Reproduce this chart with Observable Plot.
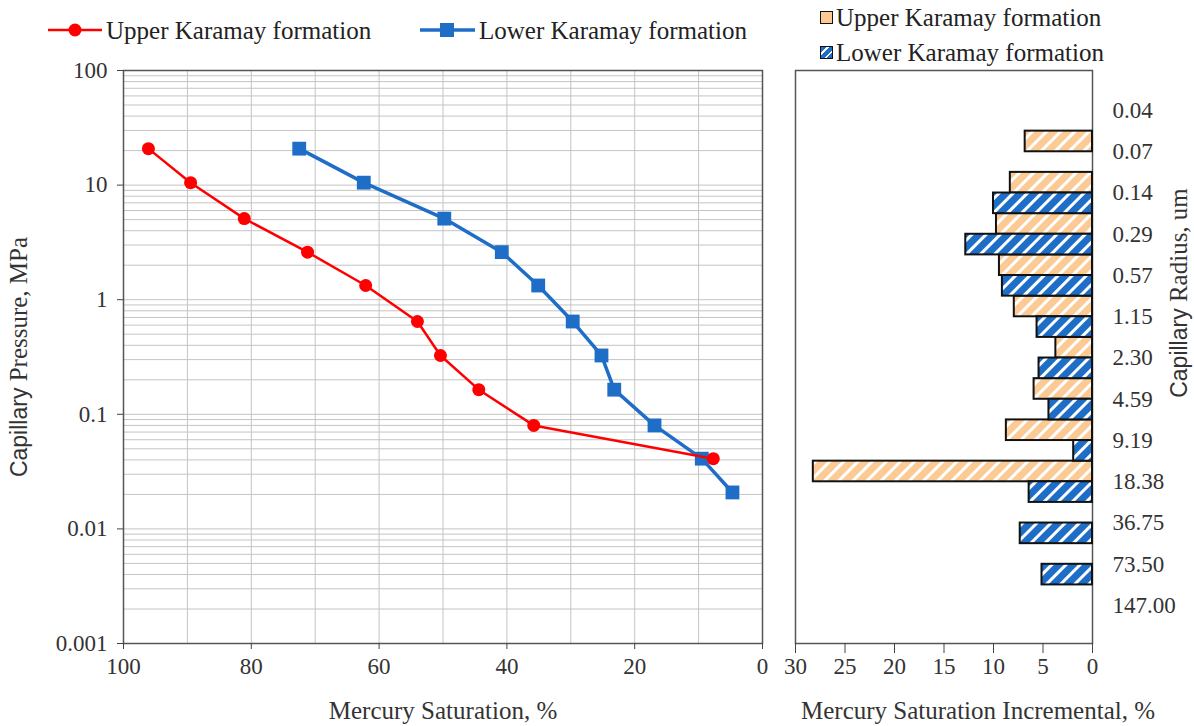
<!DOCTYPE html>
<html><head><meta charset="utf-8">
<script src="https://cdn.jsdelivr.net/npm/d3@7"></script>
<script src="https://cdn.jsdelivr.net/npm/@observablehq/plot@0.6"></script>
<style>
body{margin:0;background:#fff;font-family:"Liberation Serif",serif;}
#wrap{position:relative;width:1194px;height:726px;overflow:hidden;background:#fff;}
#left{position:absolute;left:0;top:0;}
#right{position:absolute;left:780px;top:0;}
.leg{position:absolute;font-size:25px;color:#222;white-space:nowrap;display:flex;align-items:center;line-height:1;}
.sw{display:inline-block;width:13px;height:13px;border:1.5px solid #111;margin-right:3px;box-sizing:border-box;}
</style></head><body>
<div id="wrap">
  <div id="left"></div>
  <div id="right"></div>
  <div class="leg" style="left:47px;top:17px;"><svg width="57" height="26"><line x1="1" y1="13" x2="55" y2="13" stroke="#FF0000" stroke-width="2.5"/><circle cx="28" cy="13" r="6.5" fill="#FF0000"/></svg><span style="margin-left:2px">Upper Karamay formation</span></div>
  <div class="leg" style="left:419px;top:17px;"><svg width="58" height="26"><line x1="1" y1="13" x2="56" y2="13" stroke="#1E6EC8" stroke-width="3.5"/><rect x="21" y="6" width="14" height="14" fill="#1E6EC8"/></svg><span style="margin-left:2px">Lower Karamay formation</span></div>
  <div class="leg" style="left:820px;top:5px;"><span class="sw" style="background:#FCCB95"></span><span>Upper Karamay formation</span></div>
  <div class="leg" style="left:820px;top:40px;"><span class="sw" style="background:repeating-linear-gradient(135deg,#1E6EC8 0 4px,#fff 4px 6px)"></span><span>Lower Karamay formation</span></div>
</div>
<script>
// Capillary pressure curves (mercury injection)
const saturationUpper = [96.1, 89.5, 81.1, 71.2, 62.1, 54.0, 50.4, 44.4, 35.8, 7.7];
const pressureUpper   = [20.8, 10.5, 5.1, 2.6, 1.33, 0.645, 0.326, 0.164, 0.080, 0.041];
const saturationLower = [72.5, 62.4, 49.8, 40.8, 35.1, 29.7, 25.2, 23.2, 16.9, 9.5, 4.7];
const pressureLower   = [20.8, 10.5, 5.1, 2.6, 1.33, 0.645, 0.326, 0.164, 0.080, 0.041, 0.0208];

// Pore-throat radius distribution (incremental saturation)
const radiusLabels = ["0.04","0.07","0.14","0.29","0.57","1.15","2.30","4.59","9.19","18.38","36.75","73.50","147.00"];
const incrementUpper = [null, 6.8, 8.3, 9.7, 9.4, 7.9, 3.7, 5.9, 8.7, 28.2, null, null, null];
const incrementLower = [null, null, 10.0, 12.8, 9.1, 5.6, 5.4, 4.4, 1.9, 6.4, 7.3, 5.1, null];

// Tick values
const satTicks = [100, 80, 60, 40, 20, 0];
const satGrid = [0, 10, 20, 30, 40, 50, 60, 70, 80, 90, 100];
const pressureTicks = [0.001, 0.01, 0.1, 1, 10, 100];
const incTicks = [30, 25, 20, 15, 10, 5, 0];

const pressureGrid = [];
for (const dec of [0.001, 0.01, 0.1, 1, 10]) for (let k = 1; k <= 9; k++) pressureGrid.push(+(k * dec).toPrecision(3));
pressureGrid.push(100);

const upper = saturationUpper.map((s, i) => ({s, p: pressureUpper[i]}));
const lower = saturationLower.map((s, i) => ({s, p: pressureLower[i]}));

const serif = '"Liberation Serif", "Times New Roman", serif';
const blue = "#1E6EC8", red = "#FF0000";

const leftPlot = Plot.plot({
  width: 780, height: 726,
  marginTop: 70, marginBottom: 83, marginLeft: 123, marginRight: 18,
  style: {fontFamily: serif, fontSize: "23px", color: "#333", background: "white", overflow: "visible"},
  x: {domain: [100, 0], label: null},
  y: {type: "log", domain: [0.001, 100], label: null},
  marks: [
    Plot.gridX(satGrid, {stroke: "#c4c4c4", strokeOpacity: 1, strokeWidth: 1}),
    Plot.gridY(pressureGrid, {stroke: "#c4c4c4", strokeOpacity: 1, strokeWidth: 1}),
    Plot.frame({stroke: "#555", strokeWidth: 1.5}),
    Plot.axisX(satTicks, {tickSize: 6, tickPadding: 8, stroke: "#444", label: null}),
    Plot.axisY(pressureTicks, {tickSize: 6, tickPadding: 10, stroke: "#444", label: null,
      tickFormat: d => d >= 1 ? String(d) : d.toString()}),
    Plot.line(lower, {x: "s", y: "p", stroke: blue, strokeWidth: 3.5}),
    Plot.dot(lower, {x: "s", y: "p", symbol: "square", r: 7.8, fill: blue}),
    Plot.line(upper, {x: "s", y: "p", stroke: red, strokeWidth: 2.5}),
    Plot.dot(upper, {x: "s", y: "p", r: 6.5, fill: red}),
    Plot.text(["Mercury Saturation, %"], {text: d => d, frameAnchor: "bottom", textAnchor: "middle", lineAnchor: "middle", dy: 67, fontSize: 25, fill: "#333"}),
    Plot.text(["Capillary Pressure, MPa"], {text: d => d, frameAnchor: "left", textAnchor: "middle", lineAnchor: "middle", dx: -105, rotate: -90, fontSize: 25, fill: "#333"})
  ]
});

const rows = radiusLabels.map((r, i) => ({i, r, u: incrementUpper[i], l: incrementLower[i]}));

const rightPlot = Plot.plot({
  width: 414, height: 726,
  marginTop: 70, marginBottom: 83, marginLeft: 15, marginRight: 102,
  style: {fontFamily: serif, fontSize: "23px", color: "#333", background: "white", overflow: "visible"},
  x: {domain: [30, 0], label: null},
  y: {domain: [-0.97, 12.92], reverse: true, label: null},
  marks: [
    Plot.frame({stroke: "#555", strokeWidth: 1.5}),
    Plot.rect(rows.filter(d => d.u != null), {x1: 0, x2: "u", y1: d => d.i - 0.5, y2: d => d.i,
      fill: "url(#hatchU)", stroke: "#111", strokeWidth: 2}),
    Plot.rect(rows.filter(d => d.l != null), {x1: 0, x2: "l", y1: d => d.i, y2: d => d.i + 0.5,
      fill: "url(#hatchL)", stroke: "#111", strokeWidth: 2}),
    Plot.axisX(incTicks, {tickSize: 10, tickPadding: 4, stroke: "#444", label: null}),
    Plot.axisY(rows.map(d => d.i), {anchor: "right", tickSize: 0, tickPadding: 20, label: null,
      tickFormat: i => radiusLabels[i]}),
    Plot.text(["Mercury Saturation Incremental, %"], {text: d => d, frameAnchor: "bottom", textAnchor: "middle", lineAnchor: "middle", dx: 34, dy: 67, fontSize: 25, fill: "#333"}),
    Plot.text(["Capillary Radius, um"], {text: d => d, frameAnchor: "right", textAnchor: "middle", lineAnchor: "middle", dx: 86, dy: -64, rotate: -90, fontSize: 25, fill: "#333"})
  ]
});

// hatch pattern definitions
const defs = d3.select(rightPlot).insert("defs", ":first-child");
function hatch(id, base) {
  const p = defs.append("pattern").attr("id", id).attr("patternUnits", "userSpaceOnUse")
    .attr("width", 10).attr("height", 10).attr("patternTransform", "rotate(45)");
  p.append("rect").attr("width", 10).attr("height", 10).attr("fill", base);
  p.append("rect").attr("x", 0).attr("width", 3).attr("height", 10).attr("fill", "#fff");
}
hatch("hatchU", "#FCCB95");
hatch("hatchL", blue);

// "Capillary" set in a narrow sans face, as in the original
for (const svg of [leftPlot, rightPlot]) {
  d3.select(svg).selectAll("text").each(function() {
    const t = this.textContent;
    if (t.startsWith("Capillary ")) {
      const s = d3.select(this);
      s.text(null);
      s.append("tspan").attr("font-family", '"Liberation Sans Narrow", "Liberation Sans", sans-serif').attr("font-size", 23).text("Capillary");
      s.append("tspan").text(t.slice(9));
    }
  });
}

document.getElementById("left").appendChild(leftPlot);
document.getElementById("right").appendChild(rightPlot);
</script>
</body></html>
